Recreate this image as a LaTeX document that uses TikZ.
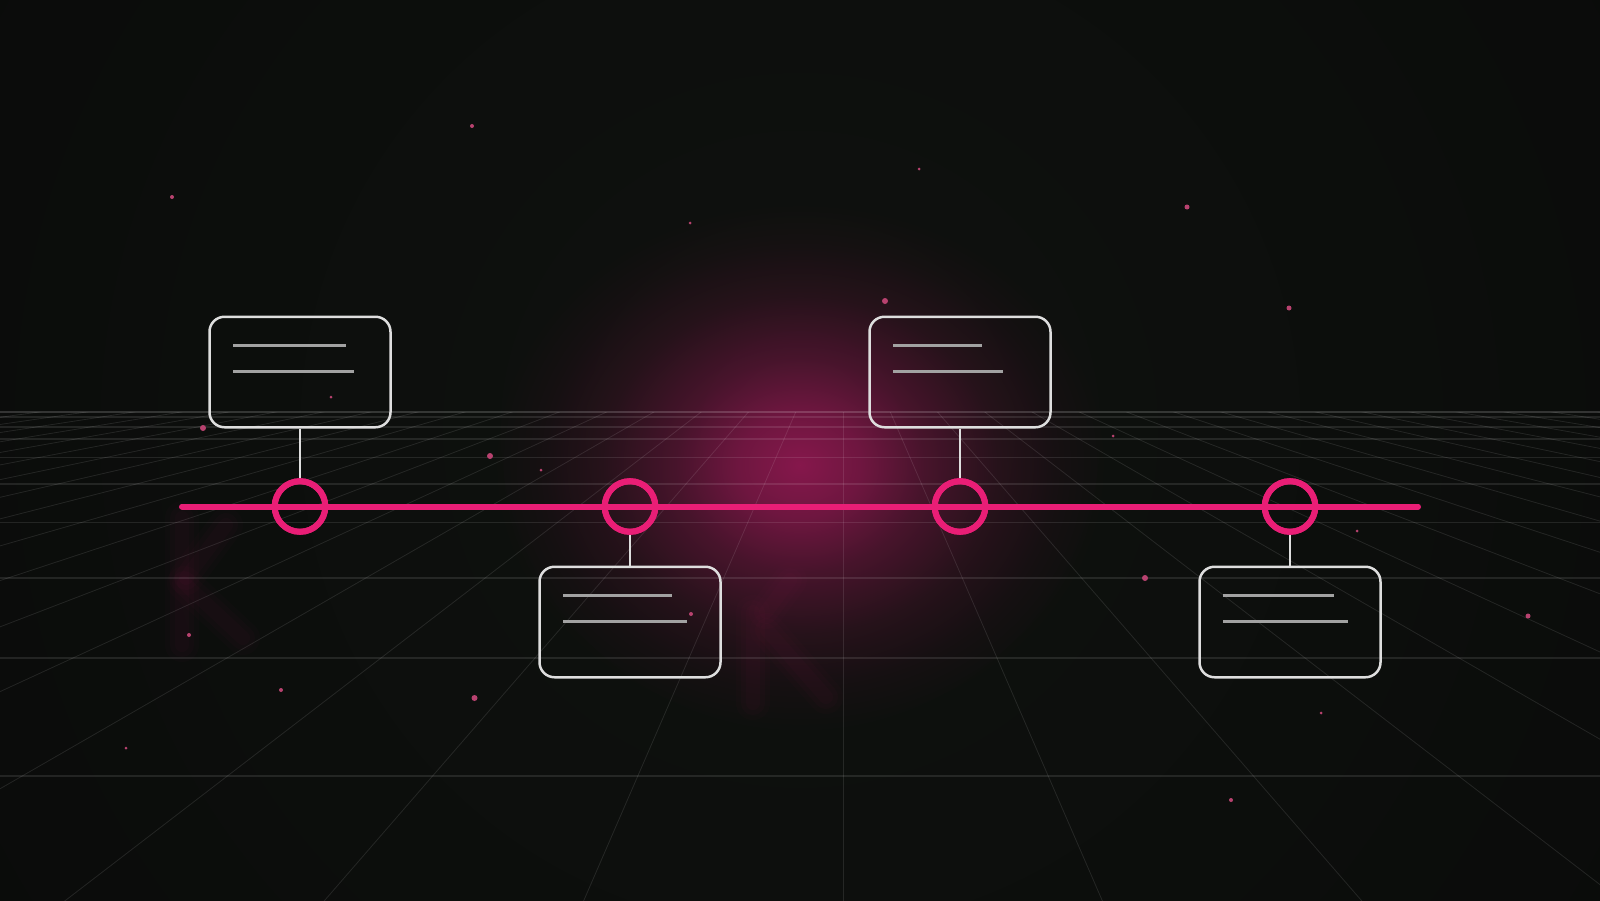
\documentclass[tikz,border=0pt]{standalone}
\usepackage{tikz}
\usetikzlibrary{calc}
\usetikzlibrary{fadings}
\definecolor{bgdark}{HTML}{0A0B0A}
\definecolor{bglight}{HTML}{0F120F}
\definecolor{tlpink}{HTML}{E91E76}
\definecolor{glowpink}{RGB}{134,24,76}
\definecolor{dotpink}{HTML}{B8426F}
\definecolor{boxline}{HTML}{DEDEDE}
\definecolor{textline}{HTML}{A2A2A2}
\pgfdeclareradialshading{vignette}{\pgfpoint{0bp}{0bp}}{color(0bp)=(bglight); color(25bp)=(bgdark); color(50bp)=(bgdark)}
\pgfdeclareradialshading{softglowshade}{\pgfpoint{0bp}{0bp}}{color(0bp)=(white); color(5bp)=(white!80!black); color(10bp)=(white!48!black); color(16bp)=(white!20!black); color(21bp)=(white!6!black); color(25bp)=(black); color(50bp)=(black)}
\pgfdeclarefading{softglow}{\pgfuseshading{softglowshade}}
\tikzset{
  gridray/.style={white, opacity=0.1, line width=0.8pt},
  gridflat/.style={white, opacity=0.1, line width=1.4pt},
  marker/.style={circle, draw=tlpink, line width=6pt, minimum size=50.6pt, inner sep=0pt},
  notebox/.style={rectangle, rounded corners=15pt, draw=boxline, line width=2.5pt, minimum width=181pt, minimum height=110.5pt, inner sep=0pt},
  txtline/.style={textline, line width=2.4pt},
  stem/.style={boxline, line width=2pt},
  blurk/.style={glowpink, line cap=round, line join=round}
}
\newcommand{\notelines}[3]{
\draw[txtline] ($(#1.north west)+(25,30)$) -- +(#2,0);
\draw[txtline] ($(#1.north west)+(25,56)$) -- +(#3,0);
}

\begin{document}
\begin{tikzpicture}[x=1pt,y=-1pt]
\useasboundingbox (0,0) rectangle (1600,900);
%background
\fill[bgdark] (0,0) rectangle (1600,900);
\begin{scope}
\clip (0,0) rectangle (1600,900);
\shade[shading=vignette] (800,430) circle (1000pt);
\fill[glowpink, path fading=softglow] (800,465) ellipse [x radius=310pt, y radius=265pt];
\end{scope}

%blurred letters
\foreach \w/\o in {34/0.03,24/0.04,14/0.045} {
  \draw[blurk, line width=\w pt, opacity=\o] (182,518) -- (182,645);
  \draw[blurk, line width=\w pt, opacity=\o] (184,583) -- (243,638);
  \draw[blurk, line width=\w pt, opacity=\o] (186,578) -- (226,525);
  \draw[blurk, line width=\w pt, opacity=\o] (753,612) -- (753,703);
  \draw[blurk, line width=\w pt, opacity=\o] (767,630) -- (826,697);
  \draw[blurk, line width=\w pt, opacity=\o] (766,612) -- (790,580);
}

%grid
\begin{scope}
\clip (0,412) rectangle (1600,900);
\foreach \k in {-18,...,17}
  \draw[gridray] (843,303) -- (843+388.5*\k,1198.5);
\foreach \y in {417,427,439,457.5,484,522.5,578,658,776}
  \draw[gridflat] (0,\y) -- (1600,\y);
\end{scope}
\draw[white, opacity=0.17, line width=1.5pt] (0,412) -- (1600,412);

%dots
\foreach \x/\y/\r in {472/126/2, 172/197/2, 690/223/1.5, 919/169/1.5, 1187/207/2.5,
  1289/308/2.5, 885/301/3, 331/397/1.5, 203/428/3, 490/456/3, 541/470/1.5,
  189/635/2, 281/690/2, 474.5/698/3, 126/748/1.5, 691/614/2, 1113/436/1.5,
  1357/531/1.5, 1145/578/3, 1528/616/2.5, 1321/713/1.5, 1231/800/2}
  \fill[dotpink] (\x,\y) circle (\r pt);

%timeline
\coordinate (tlstart) at (182,506.5);
\coordinate (tlend) at (1418,506.5);
\draw[tlpink, line width=6pt, line cap=round] (tlstart) -- (tlend);

%nodes
\node[notebox] (b1) at (300,372) {};
\node[notebox] (b2) at (630,622) {};
\node[notebox] (b3) at (960,372) {};
\node[notebox] (b4) at (1290,622) {};
\node[marker] (m1) at (300,506.5) {};
\node[marker] (m2) at (630,506.5) {};
\node[marker] (m3) at (960,506.5) {};
\node[marker] (m4) at (1290,506.5) {};

%stems
\draw[stem] (b1.south) -- (m1.north);
\draw[stem] (m2.south) -- (b2.north);
\draw[stem] (b3.south) -- (m3.north);
\draw[stem] (m4.south) -- (b4.north);
\node[marker] at (m1) {};
\node[marker] at (m2) {};
\node[marker] at (m3) {};
\node[marker] at (m4) {};

%text placeholders
\notelines{b1}{113}{121}
\notelines{b2}{109}{124}
\notelines{b3}{89}{110}
\notelines{b4}{111}{125}
\end{tikzpicture}
\end{document}
